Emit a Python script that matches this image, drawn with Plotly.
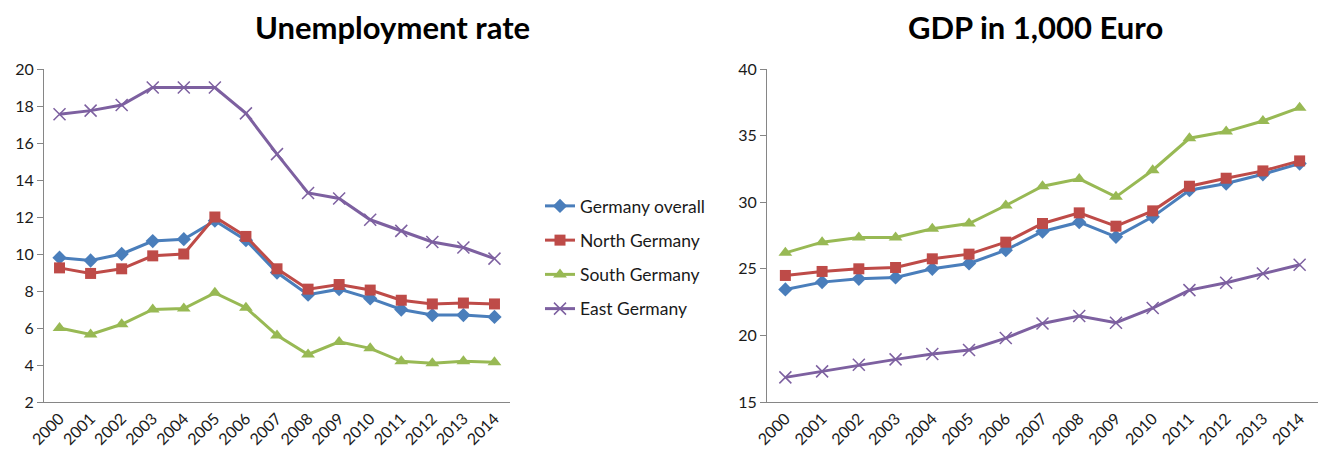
import plotly.graph_objects as go

years = [str(y) for y in range(2000, 2015)]

series_names = ["Germany overall", "North Germany", "South Germany", "East Germany"]

unemp_germany = [9.8, 9.65, 10.0, 10.7, 10.8, 11.8, 10.75, 9.0, 7.8, 8.1, 7.6, 7.0, 6.7, 6.7, 6.6]
unemp_north = [9.25, 8.95, 9.2, 9.9, 10.0, 12.0, 10.95, 9.2, 8.1, 8.35, 8.05, 7.5, 7.3, 7.35, 7.3]
unemp_south = [6.0, 5.65, 6.2, 7.0, 7.05, 7.9, 7.1, 5.6, 4.57, 5.25, 4.9, 4.2, 4.1, 4.2, 4.15]
unemp_east = [17.55, 17.75, 18.05, 19.0, 19.0, 19.0, 17.6, 15.4, 13.3, 13.0, 11.85, 11.25, 10.65, 10.35, 9.75]

gdp_germany = [23.45, 24.0, 24.25, 24.35, 25.0, 25.4, 26.4, 27.8, 28.5, 27.4, 28.9, 30.9, 31.4, 32.1, 32.9]
gdp_north = [24.5, 24.8, 25.0, 25.1, 25.75, 26.1, 27.0, 28.4, 29.2, 28.2, 29.35, 31.2, 31.8, 32.35, 33.1]
gdp_south = [26.2, 27.0, 27.35, 27.35, 28.0, 28.4, 29.75, 31.2, 31.75, 30.4, 32.4, 34.8, 35.3, 36.1, 37.1]
gdp_east = [16.85, 17.3, 17.8, 18.2, 18.6, 18.9, 19.8, 20.9, 21.45, 20.95, 22.05, 23.4, 23.95, 24.65, 25.3]

colors = ["#4A7EBB", "#BE4B48", "#98B954", "#7D60A0"]
symbols = ["diamond", "square", "triangle-up", "x-thin"]
sizes = [11, 11, 12, 12]

FONT = "Lato"

fig = go.Figure()

unemp = [unemp_germany, unemp_north, unemp_south, unemp_east]
gdp = [gdp_germany, gdp_north, gdp_south, gdp_east]


def marker(i):
    mk = dict(symbol=symbols[i], size=sizes[i], color=colors[i])
    if symbols[i] == "x-thin":
        mk["line"] = dict(color=colors[i], width=1.5)
    else:
        mk["line"] = dict(width=0)
    return mk


for i, name in enumerate(series_names):
    fig.add_trace(go.Scatter(
        x=years, y=unemp[i], name=name, mode="lines+markers",
        line=dict(color=colors[i], width=3), marker=marker(i),
        xaxis="x", yaxis="y", legendgroup=name, showlegend=True))
for i, name in enumerate(series_names):
    fig.add_trace(go.Scatter(
        x=years, y=gdp[i], name=name, mode="lines+markers",
        line=dict(color=colors[i], width=3), marker=marker(i),
        xaxis="x2", yaxis="y2", legendgroup=name, showlegend=False))

axis_common = dict(showline=True, linecolor="#868686", linewidth=1, showgrid=False,
                   zeroline=False, automargin=False,
                   tickfont=dict(family=FONT, size=16, color="#1a1a1a"))

fig.update_layout(
    width=1320, height=453,
    margin=dict(l=0, r=0, t=0, b=0),
    paper_bgcolor="white", plot_bgcolor="white",
    font=dict(family=FONT, color="#1a1a1a"),
    xaxis=dict(domain=[44/1320, 510/1320], type="category", range=[-0.5, 14.5],
               tickangle=-45, ticks="", anchor="y", **axis_common),
    yaxis=dict(domain=[1-402/453, 1-69/453], range=[2, 20], dtick=2, ticks="outside",
               ticklen=6, tickcolor="#868686", anchor="x", **axis_common),
    xaxis2=dict(domain=[767/1320, 1318/1320], type="category", range=[-0.5, 14.5],
                tickangle=-45, ticks="", anchor="y2", **axis_common),
    yaxis2=dict(domain=[1-402/453, 1-69/453], range=[15, 40], dtick=5, ticks="outside",
                ticklen=6, tickcolor="#868686", anchor="x2", **axis_common),
    legend=dict(x=540/1320, y=1-188/453, xanchor="left", yanchor="top",
                font=dict(family=FONT, size=17.5, color="#1a1a1a"),
                tracegroupgap=8.5, bgcolor="rgba(0,0,0,0)"),
    annotations=[
        dict(text="<b>Unemployment rate</b>", x=392/1320, y=1-27/453, xref="paper", yref="paper",
             showarrow=False, font=dict(family=FONT, size=31, color="black"), xanchor="center", yanchor="middle"),
        dict(text="<b>GDP in 1,000 Euro</b>", x=1035/1320, y=1-27/453, xref="paper", yref="paper",
             showarrow=False, font=dict(family=FONT, size=31, color="black"), xanchor="center", yanchor="middle"),
    ],
)

fig.write_html("out.html")
